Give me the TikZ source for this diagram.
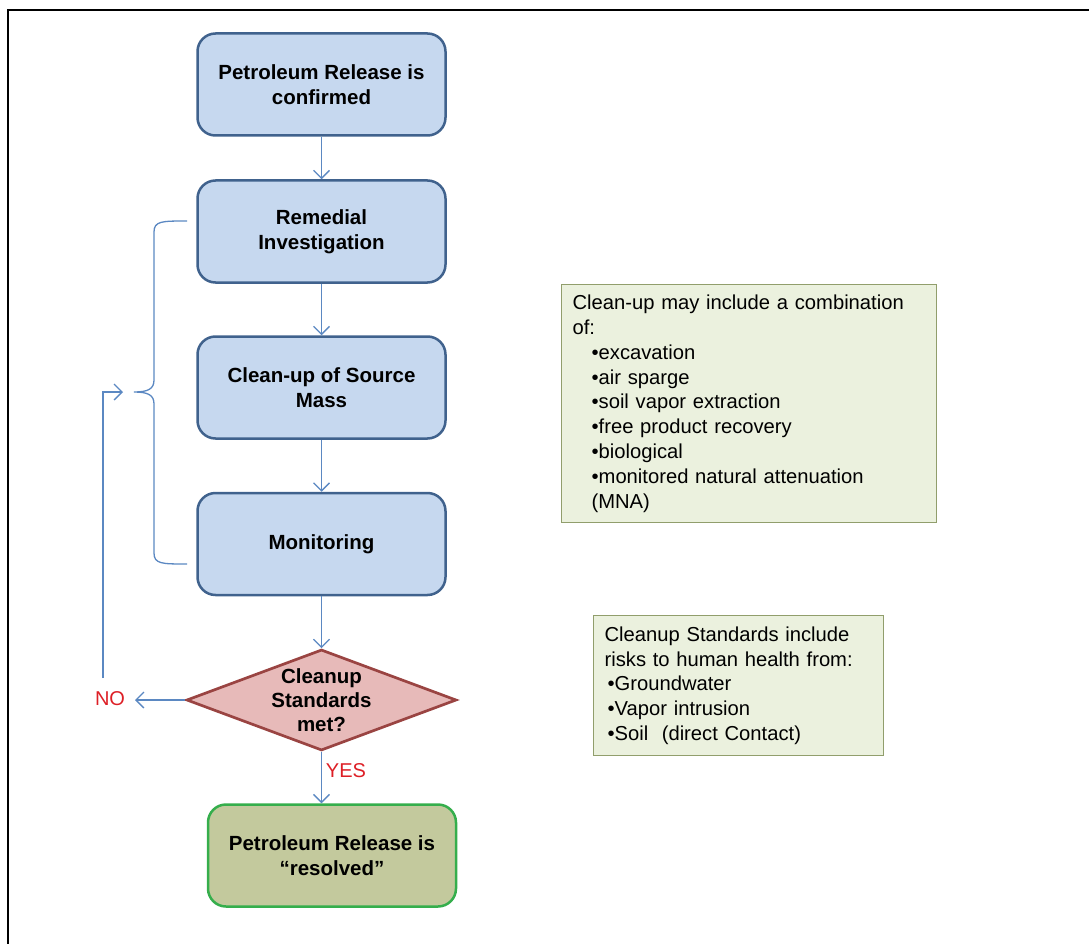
\documentclass[tikz,border=0pt]{standalone}
\usepackage{fontspec}
\setmainfont{Liberation Sans}
\usetikzlibrary{shapes.geometric,arrows.meta}

\definecolor{boxblue}{HTML}{C6D8EF}
\definecolor{edgeblue}{HTML}{40628D}
\definecolor{lineblue}{HTML}{5B88C2}
\definecolor{diafill}{HTML}{E7BAB9}
\definecolor{diaedge}{HTML}{9A4442}
\definecolor{endfill}{HTML}{C3C99D}
\definecolor{endedge}{HTML}{35AE4C}
\definecolor{notefill}{HTML}{EBF1DE}
\definecolor{noteedge}{HTML}{919E6C}
\definecolor{answerred}{HTML}{DD1F26}

\tikzset{
  stepbox/.style={draw=edgeblue, fill=boxblue, line width=2.5pt, rounded corners=18pt,
    minimum width=248pt, minimum height=102pt, align=center,
    font=\bfseries\fontsize{20.5}{24.5}\selectfont},
  endbox/.style={stepbox, draw=endedge, fill=endfill},
  decision/.style={diamond, draw=diaedge, fill=diafill, line width=2.7pt, aspect=2.6,
    inner sep=-3pt, minimum width=270pt, minimum height=101pt, align=center,
    font=\bfseries\fontsize{20.5}{24}\selectfont},
  notebox/.style={draw=noteedge, fill=notefill, line width=1.2pt, anchor=north west,
    align=left, inner xsep=11pt, inner ysep=7pt,
    font=\fontsize{20.2}{24.8}\selectfont},
  flow/.style={draw=lineblue, line width=1.3pt, -{Straight Barb[length=8pt,width=16pt]}},
  brace/.style={draw=lineblue, line width=1.3pt},
  answer/.style={text=answerred, font=\fontsize{20}{23}\selectfont, inner sep=0pt}
}

\begin{document}
\begin{tikzpicture}[x=1pt,y=-1pt]
\useasboundingbox (0,0) rectangle (1089,944);
\draw[line width=2pt] (8,944) -- (8,10) -- (1089,10);

% main column
\node[stepbox] (confirmed) at (321.5,84.5) {Petroleum Release is\\confirmed};
\node[stepbox] (investigation) at (321.5,231.5) {Remedial\\Investigation};
\node[stepbox] (sourcemass) at (321.5,387.5) {Clean-up of Source\\Mass};
\node[stepbox] (monitoring) at (321.5,544) {Monitoring};
\node[decision] (standards) at (321.5,700) {Cleanup\\Standards\\met?};
\node[endbox] (resolved) at (332,855.5) {Petroleum Release is\\“resolved”};

\draw[flow] (confirmed) -- (investigation);
\draw[flow] (investigation) -- (sourcemass);
\draw[flow] (sourcemass) -- (monitoring);
\draw[flow] (monitoring) -- (standards);
\draw[flow] (standards.south) -- (resolved.north -| standards.south);

% answers
\node[answer] (yes) at (346,771) {YES};
\coordinate (noend) at (135,700);
\draw[flow] (standards.west) -- (noend);
\node[answer] (no) at (110,699) {NO};

% loop back
\coordinate (bracetop) at (187,221);
\coordinate (bracebottom) at (187,564);
\coordinate (bracetip) at (134,392);
\coordinate (loopstart) at (103,678);
\draw[brace] (bracetop) .. controls (162,221) and (154,221) .. (154,232) -- (154,380)
  .. controls (154,389) and (148,392) .. (bracetip)
  .. controls (148,392) and (154,395) .. (154,404) -- (154,553)
  .. controls (154,564) and (162,564) .. (bracebottom);
\draw[flow, shorten >=11pt] (loopstart) |- (bracetip);

% notes
\node[notebox, text width=353pt, minimum height=238pt] (methods) at (561,284)
  {Clean-up may include a combination\\of:\\
   \hspace*{19pt}•excavation\\
   \hspace*{19pt}•air sparge\\
   \hspace*{19pt}•soil vapor extraction\\
   \hspace*{19pt}•free product recovery\\
   \hspace*{19pt}•biological\\
   \hspace*{19pt}•monitored natural attenuation\\
   \hspace*{19pt}(MNA)};
\node[notebox, text width=268pt, minimum height=140pt] (risks) at (593,615)
  {Cleanup Standards include\\risks to human health from:\\
   \hspace*{3pt}•Groundwater\\
   \hspace*{3pt}•Vapor intrusion\\
   \hspace*{3pt}•Soil \ (direct Contact)};
\end{tikzpicture}
\end{document}
